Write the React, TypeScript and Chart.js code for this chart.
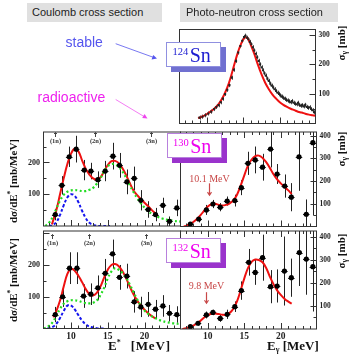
import React, { useEffect, useRef } from "react";
import { Chart, registerables } from "chart.js";

Chart.register(...registerables);

// ---------------- shared axis data ----------------
const E_MIN = 6.25;
const E_MAX = 24.9;
const X_TICK_LABELS = [10, 15, 20];
const THRESHOLD_LABELS = ["(1n)", "(2n)", "(3n)"];

// ---------------- 124Sn photo-neutron (top right) ----------------
const sn124E = [9.0, 9.4, 9.8, 10.2, 10.6, 11.0, 11.3, 11.6, 11.9, 12.2, 12.5, 12.8, 13.1, 13.4, 13.7, 14.0, 14.3, 14.6, 14.85, 15.1, 15.3, 15.5, 15.7, 15.9, 16.1, 16.3, 16.5, 16.7, 16.9, 17.1, 17.3, 17.5, 17.7, 17.9, 18.1, 18.3, 18.5, 18.7, 18.9, 19.1, 19.3, 19.5, 19.7, 19.9, 20.1, 20.3, 20.5, 20.7, 20.9, 21.1, 21.3, 21.5, 21.7, 21.9, 22.1, 22.3, 22.5, 22.7, 22.9, 23.1, 23.3, 23.5, 23.7, 23.9, 24.1, 24.3, 24.5, 24.7];
const sn124Sigma = [20, 23, 28, 34, 40, 49, 56, 62, 72, 84, 100, 114, 130, 155, 182, 212, 240, 262, 280, 292, 297, 290, 285, 276, 268, 258, 247, 236, 224, 212, 200, 190, 180, 170, 162, 152, 144, 135, 128, 122, 116, 110, 104, 100, 95, 91, 87, 84, 80, 78, 75, 72, 76, 70, 67, 65, 70, 63, 60, 62, 58, 63, 56, 53, 55, 49, 45, 38];
const sn124Err = 7;
const sn124FitE = [8.8, 9.5, 10, 10.5, 11, 11.5, 12, 12.5, 13, 13.5, 14, 14.5, 15, 15.3, 15.6, 16, 16.5, 17, 17.5, 18, 18.5, 19, 19.5, 20, 20.5, 21, 21.5, 22, 22.5, 23, 23.5, 24, 24.5, 24.9];
const sn124Fit = [18, 25, 32, 40, 50, 62, 80, 104, 135, 176, 220, 258, 285, 292, 288, 268, 236, 199, 166, 138, 116, 98, 84, 72, 63, 56, 50, 45, 40, 37, 33, 30, 28, 26];
const sn124YLabels = [100, 200, 300];

// ---------------- 130Sn Coulomb (middle left) ----------------
const sn130CoulE = [7.85, 8.75, 9.75, 10.7, 11.8, 12.7, 13.65, 14.65, 15.7, 16.6, 17.6, 18.6, 19.5, 20.5, 21.5, 22.5, 23.4, 24.4];
const sn130Coul = [36, 128, 218, 242, 176, 173, 146, 173, 220, 191, 139, 150, 81, 52, 36, 65, 15, 57];
const sn130CoulErr = [18, 29, 32, 42, 32, 26, 26, 32, 42, 39, 39, 37, 32, 26, 21, 24, 15, 26];
const sn130TotE = [7.4, 8, 8.5, 9, 9.5, 10, 10.5, 11, 11.5, 12, 12.5, 13, 13.5, 14, 14.5, 15, 15.5, 16, 16.5, 17, 17.5, 18, 18.5, 19, 19.5, 20, 20.5, 21, 21.5];
const sn130Tot = [5, 50, 100, 150, 195, 228, 243, 235, 207, 180, 162, 150, 146, 153, 172, 192, 204, 205, 198, 182, 160, 135, 112, 97, 85, 73, 62, 50, 39];
const sn130PdrE = [7, 7.5, 8, 8.5, 9, 9.5, 10, 10.5, 11, 11.5, 12, 12.5, 13, 13.5, 14, 15.3];
const sn130Pdr = [0, 3, 12, 35, 65, 90, 100, 95, 75, 48, 25, 10, 4, 1, 0, 0];
const sn130GdrE = [6.5, 7, 7.5, 8, 8.5, 9, 9.5, 10, 10.5, 11, 11.5, 12, 12.5, 13, 13.5, 14, 14.5, 15, 15.5, 16, 16.5, 17, 17.5, 18, 18.5, 19, 19.5, 20, 20.5, 21, 21.5, 22, 22.5, 23, 23.5, 24, 24.9];
const sn130Gdr = [0, 10, 28, 55, 80, 98, 108, 112, 113, 112, 110, 110, 114, 120, 133, 150, 172, 188, 195, 194, 186, 172, 152, 128, 107, 88, 72, 58, 47, 38, 32, 27, 23, 20, 18, 16, 14];
const sn130Thresholds = [7.75, 13.2, 20.9];
const coulYLabels = [100, 200];

// ---------------- 130Sn photo-neutron (middle right) ----------------
const sn130PhotE = [7.6, 8.75, 9.8, 10.7, 11.7, 12.65, 13.7, 14.6, 15.5, 16.5, 17.5, 18.6, 19.5, 20.55, 21.45, 22.5, 23.5, 24.4];
const sn130Phot = [11, 33, 73, 99, 85, 112, 114, 171, 278, 293, 261, 341, 231, 178, 129, 307, 54, 369];
const sn130PhotErr = [5, 15, 22, 18, 18, 20, 26, 33, 51, 59, 59, 81, 44, 51, 62, 150, 65, 320];
const sn130PhotFitE = [6.7, 7, 7.5, 8, 8.5, 9, 9.5, 10, 10.5, 11, 11.5, 12, 12.5, 13, 13.5, 14, 14.5, 15, 15.5, 16, 16.5, 17, 17.5, 18, 18.5, 19, 19.5, 20, 20.5, 21, 21.5];
const sn130PhotFit = [0, 3, 10, 20, 33, 50, 70, 88, 98, 100, 95, 92, 95, 102, 115, 140, 180, 225, 268, 295, 310, 312, 302, 283, 258, 230, 207, 190, 175, 160, 143];
const photYLabels = [100, 200, 300, 400];

// ---------------- 132Sn Coulomb (bottom left) ----------------
const sn132CoulE = [7.85, 8.85, 9.8, 10.8, 11.7, 12.7, 13.65, 14.65, 15.65, 16.6, 17.6, 18.6, 19.5, 20.5, 21.5, 22.5, 23.4, 24.4];
const sn132Coul = [44, 100, 190, 190, 102, 108, 128, 174, 235, 161, 165, 84, 68, 76, 61, 71, 48, 44];
const sn132CoulErr = [24, 32, 50, 50, 37, 34, 39, 45, 45, 39, 39, 34, 32, 39, 29, 34, 26, 26];
const sn132TotE = [7.6, 8, 8.5, 9, 9.5, 10, 10.5, 11, 11.5, 12, 12.5, 13, 13.5, 14, 14.5, 15, 15.5, 16, 16.5, 17, 17.5, 18, 18.5, 19, 19.5, 20, 20.5, 21, 21.5];
const sn132Tot = [35, 55, 88, 132, 172, 188, 182, 166, 146, 124, 108, 104, 112, 132, 160, 185, 200, 203, 196, 180, 158, 132, 108, 88, 72, 59, 48, 39, 32];
const sn132PdrE = [6.8, 7.5, 8, 8.5, 9, 9.5, 10, 10.5, 11, 11.5, 12, 12.5, 13, 13.5, 14, 14.7];
const sn132Pdr = [0, 5, 15, 33, 55, 72, 72, 60, 42, 25, 13, 6, 3, 1, 0, 0];
const sn132GdrE = [6.3, 7, 7.5, 8, 8.5, 9, 9.5, 10, 10.5, 11, 11.5, 12, 12.5, 13, 13.5, 14, 14.5, 15, 15.5, 16, 16.5, 17, 17.5, 18, 18.5, 19, 19.5, 20, 20.5, 21, 21.5, 22, 22.5, 23, 23.5, 24, 24.9];
const sn132Gdr = [0, 8, 20, 40, 62, 78, 86, 89, 89, 87, 83, 80, 79, 81, 88, 105, 128, 158, 180, 190, 185, 175, 160, 138, 115, 92, 72, 57, 46, 38, 32, 27, 23, 20, 18, 16, 14];
const sn132Thresholds = [7.44, 12.5, 20.2];

// ---------------- 132Sn photo-neutron (bottom right) ----------------
const sn132PhotE = [7.6, 8.65, 9.8, 10.7, 11.7, 12.65, 13.7, 14.6, 15.6, 16.5, 17.5, 18.6, 19.5, 20.5, 21.45, 22.55, 23.5, 24.4];
const sn132Phot = [10, 25, 61, 72, 46, 64, 97, 167, 290, 246, 310, 184, 187, 252, 223, 332, 304, 271];
const sn132PhotErr = [5, 10, 15, 12, 15, 20, 23, 40, 58, 54, 100, 72, 72, 150, 83, 145, 155, 195];
const sn132PhotFitE = [6.5, 7, 7.5, 8, 8.5, 9, 9.5, 10, 10.5, 11, 11.5, 12, 12.5, 13, 13.5, 14, 14.5, 15, 15.5, 16, 16.5, 17, 17.5, 18, 18.5, 19, 19.5, 20, 20.5, 21, 21.5];
const sn132PhotFit = [0, 3, 8, 15, 24, 36, 50, 60, 66, 67, 65, 62, 62, 70, 88, 120, 168, 220, 265, 292, 302, 300, 290, 265, 228, 195, 168, 148, 132, 120, 110];

// ---------------- styles ----------------
const SERIF = "'Liberation Serif', 'Times New Roman', serif";
const SANS = "'Liberation Sans', Arial, sans-serif";
const RED = "#ee1111";
const BLUE = "#1515ee";
const GREEN = "#22dd22";

type Curve = { e: number[]; v: number[]; color: string; dash: number[]; width: number };
type Panel = {
  id: string;
  rect: [number, number, number, number];
  yMax: number;
  ySide: "left" | "right";
  yMajor: number;
  yMinor: number;
  yLabels: number[];
  yFont: string;
  xLabels: boolean;
  topTicks: boolean;
  e: number[];
  v: number[];
  err: number[] | number;
  xErr: number;
  pointStyle: string;
  pointRadius: number;
  pointColor: string;
  errColor: string;
  curves: Curve[];
  thresholds?: number[];
  thrOffset?: number;
  note?: { e: number; text: string; textV: number; fromV: number; toV: number };
};

const PANELS: Panel[] = [
  {
    id: "sn124",
    rect: [179.5, 29.5, 315.5, 123.5],
    yMax: 318,
    ySide: "right",
    yMajor: 100,
    yMinor: 50,
    yLabels: sn124YLabels,
    yFont: `bold 7.5px ${SERIF}`,
    xLabels: false,
    topTicks: false,
    e: sn124E,
    v: sn124Sigma,
    err: sn124Err,
    xErr: 0,
    pointStyle: "rect",
    pointRadius: 1.5,
    pointColor: "#222",
    errColor: "#555",
    curves: [{ e: sn124FitE, v: sn124Fit, color: RED, dash: [], width: 2 }],
  },
  {
    id: "sn130c",
    rect: [43.5, 132, 180.5, 226],
    yMax: 296,
    ySide: "left",
    yMajor: 100,
    yMinor: 50,
    yLabels: coulYLabels,
    yFont: `bold 8px ${SERIF}`,
    xLabels: false,
    topTicks: false,
    e: sn130CoulE,
    v: sn130Coul,
    err: sn130CoulErr,
    xErr: 0.45,
    pointStyle: "circle",
    pointRadius: 2.6,
    pointColor: "#000",
    errColor: "#222",
    curves: [
      { e: sn130GdrE, v: sn130Gdr, color: GREEN, dash: [2, 2.5], width: 2.2 },
      { e: sn130PdrE, v: sn130Pdr, color: BLUE, dash: [3, 2], width: 2 },
      { e: sn130TotE, v: sn130Tot, color: RED, dash: [], width: 2 },
    ],
    thresholds: sn130Thresholds,
    thrOffset: 0,
  },
  {
    id: "sn130p",
    rect: [180.5, 132, 316.5, 226.5],
    yMax: 416,
    ySide: "right",
    yMajor: 100,
    yMinor: 50,
    yLabels: photYLabels,
    yFont: `bold 7.5px ${SERIF}`,
    xLabels: false,
    topTicks: true,
    e: sn130PhotE,
    v: sn130Phot,
    err: sn130PhotErr,
    xErr: 0.45,
    pointStyle: "circle",
    pointRadius: 2.6,
    pointColor: "#000",
    errColor: "#222",
    curves: [{ e: sn130PhotFitE, v: sn130PhotFit, color: RED, dash: [], width: 2 }],
    note: { e: 10.1, text: "10.1 MeV", textV: 206, fromV: 190, toV: 138 },
  },
  {
    id: "sn132c",
    rect: [43.5, 231, 180.5, 328.5],
    yMax: 307,
    ySide: "left",
    yMajor: 100,
    yMinor: 50,
    yLabels: coulYLabels,
    yFont: `bold 8px ${SERIF}`,
    xLabels: true,
    topTicks: false,
    e: sn132CoulE,
    v: sn132Coul,
    err: sn132CoulErr,
    xErr: 0.45,
    pointStyle: "circle",
    pointRadius: 2.6,
    pointColor: "#000",
    errColor: "#222",
    curves: [
      { e: sn132GdrE, v: sn132Gdr, color: GREEN, dash: [2, 2.5], width: 2.2 },
      { e: sn132PdrE, v: sn132Pdr, color: BLUE, dash: [3, 2], width: 2 },
      { e: sn132TotE, v: sn132Tot, color: RED, dash: [], width: 2 },
    ],
    thresholds: sn132Thresholds,
    thrOffset: 3,
  },
  {
    id: "sn132p",
    rect: [180.5, 231, 316.5, 329],
    yMax: 426,
    ySide: "right",
    yMajor: 100,
    yMinor: 50,
    yLabels: photYLabels,
    yFont: `bold 7.5px ${SERIF}`,
    xLabels: true,
    topTicks: true,
    e: sn132PhotE,
    v: sn132Phot,
    err: sn132PhotErr,
    xErr: 0.45,
    pointStyle: "circle",
    pointRadius: 2.6,
    pointColor: "#000",
    errColor: "#222",
    curves: [{ e: sn132PhotFitE, v: sn132PhotFit, color: RED, dash: [], width: 2 }],
    note: { e: 9.8, text: "9.8 MeV", textV: 184, fromV: 160, toV: 112 },
  },
];

function makePlugin(p: Panel) {
  return {
    id: "frame-" + p.id,
    beforeDatasetsDraw(chart: any) {
      const { ctx, chartArea: a } = chart;
      const xs = chart.scales.x;
      const ys = chart.scales.y;
      ctx.save();
      ctx.beginPath();
      ctx.rect(a.left, a.top, a.right - a.left, a.bottom - a.top);
      ctx.clip();
      ctx.strokeStyle = p.errColor;
      ctx.lineWidth = 1;
      p.e.forEach((e, i) => {
        const v = p.v[i];
        const err = Array.isArray(p.err) ? p.err[i] : p.err;
        const px = Math.round(xs.getPixelForValue(e)) + 0.5;
        const py = Math.round(ys.getPixelForValue(v)) + 0.5;
        ctx.beginPath();
        ctx.moveTo(px, ys.getPixelForValue(v - err));
        ctx.lineTo(px, ys.getPixelForValue(v + err));
        if (p.xErr > 0) {
          ctx.moveTo(xs.getPixelForValue(e - p.xErr), py);
          ctx.lineTo(xs.getPixelForValue(e + p.xErr), py);
        }
        ctx.stroke();
      });
      ctx.restore();
    },
    afterDraw(chart: any) {
      const { ctx, chartArea: a } = chart;
      const xs = chart.scales.x;
      const ys = chart.scales.y;
      ctx.save();
      ctx.strokeStyle = "#333";
      ctx.lineWidth = 1;
      ctx.strokeRect(a.left, a.top, a.right - a.left, a.bottom - a.top);
      ctx.beginPath();
      for (let v = 7; v <= 24; v++) {
        const px = Math.round(xs.getPixelForValue(v)) + 0.5;
        const len = v % 5 === 0 ? 6 : 3;
        ctx.moveTo(px, a.bottom);
        ctx.lineTo(px, a.bottom - len);
        if (p.topTicks) {
          ctx.moveTo(px, a.top);
          ctx.lineTo(px, a.top + len);
        }
      }
      for (let v = p.yMinor; v < p.yMax; v += p.yMinor) {
        const py = Math.round(ys.getPixelForValue(v)) + 0.5;
        const len = v % p.yMajor === 0 ? 6 : 3;
        if (p.ySide === "left") {
          ctx.moveTo(a.left, py);
          ctx.lineTo(a.left + len, py);
        } else {
          ctx.moveTo(a.right, py);
          ctx.lineTo(a.right - len, py);
        }
      }
      ctx.stroke();

      ctx.fillStyle = "#222";
      ctx.font = p.yFont;
      ctx.textBaseline = "middle";
      p.yLabels.forEach((v) => {
        const py = ys.getPixelForValue(v);
        if (p.ySide === "left") {
          ctx.textAlign = "right";
          ctx.fillText(String(v), a.left - 3.5, py);
        } else {
          ctx.textAlign = "left";
          ctx.fillText(String(v), a.right + 3, py);
        }
      });
      if (p.xLabels) {
        ctx.font = `bold 9.5px ${SERIF}`;
        ctx.textAlign = "center";
        X_TICK_LABELS.forEach((v) => {
          ctx.fillText(String(v), xs.getPixelForValue(v), a.bottom + 8);
        });
      }
      if (p.thresholds) {
        const off = p.thrOffset || 0;
        ctx.font = `bold 6.5px ${SERIF}`;
        ctx.textAlign = "center";
        ctx.strokeStyle = "#444";
        ctx.fillStyle = "#333";
        p.thresholds.forEach((e, i) => {
          const px = Math.round(xs.getPixelForValue(e)) + 0.5;
          const y0 = a.top + off + 0.5;
          ctx.beginPath();
          ctx.moveTo(px, y0);
          ctx.lineTo(px, y0 + 4.5);
          ctx.moveTo(px - 1.5, y0 + 1.5);
          ctx.lineTo(px, y0);
          ctx.lineTo(px + 1.5, y0 + 1.5);
          ctx.stroke();
          ctx.fillText(THRESHOLD_LABELS[i], px, y0 + 8.5);
        });
      }
      if (p.note) {
        const n = p.note;
        const px = Math.round(xs.getPixelForValue(n.e)) + 0.5;
        ctx.fillStyle = "#c84848";
        ctx.strokeStyle = "#c84848";
        ctx.font = `10px ${SERIF}`;
        ctx.textAlign = "center";
        ctx.fillText(n.text, px, ys.getPixelForValue(n.textV));
        const y1 = ys.getPixelForValue(n.fromV);
        const y2 = ys.getPixelForValue(n.toV);
        ctx.lineWidth = 1.2;
        ctx.beginPath();
        ctx.moveTo(px, y1);
        ctx.lineTo(px, y2);
        ctx.stroke();
        ctx.beginPath();
        ctx.moveTo(px - 2, y2 - 3);
        ctx.lineTo(px, y2);
        ctx.lineTo(px + 2, y2 - 3);
        ctx.stroke();
      }
      ctx.restore();
    },
  };
}

function buildConfig(p: Panel): any {
  const [l, t, r, b] = p.rect;
  const datasets: any[] = [
    {
      data: p.e.map((e, i) => ({ x: e, y: p.v[i] })),
      showLine: false,
      pointStyle: p.pointStyle,
      pointRadius: p.pointRadius,
      backgroundColor: p.pointColor,
      borderColor: p.pointColor,
      borderWidth: 0,
    },
  ];
  p.curves.forEach((c) => {
    datasets.push({
      data: c.e.map((e, i) => ({ x: e, y: c.v[i] })),
      showLine: true,
      borderColor: c.color,
      borderWidth: c.width,
      borderDash: c.dash,
      pointRadius: 0,
      tension: 0.4,
      fill: false,
    });
  });
  return {
    type: "scatter",
    data: { datasets },
    options: {
      animation: false,
      responsive: false,
      maintainAspectRatio: false,
      devicePixelRatio: 1,
      events: [],
      layout: { padding: { left: l, top: t, right: 351 - r, bottom: 356 - b } },
      plugins: { legend: { display: false }, tooltip: { enabled: false } },
      scales: {
        x: { type: "linear", min: E_MIN, max: E_MAX, display: false },
        y: { type: "linear", min: 0, max: p.yMax, display: false },
      },
    },
    plugins: [makePlugin(p)],
  };
}

function IsoBox(props: { left: number; top: number; mass: string; color: string; border: string; shadow: string }) {
  const { left, top, mass, color, border, shadow } = props;
  return (
    <>
      <div style={{ position: "absolute", left: left + 5, top: top + 5, width: 55, height: 25, background: shadow }} />
      <div
        style={{
          position: "absolute",
          left,
          top,
          width: 55,
          height: 25,
          boxSizing: "border-box",
          border: `1px solid ${border}`,
          background: "#fff",
        }}
      />
      <div
        style={{
          position: "absolute",
          left: left + 6.5,
          top: top + 3,
          font: `20px ${SERIF}`,
          lineHeight: "1",
          color,
          whiteSpace: "nowrap",
        }}
      >
        <span style={{ fontSize: "10.5px", verticalAlign: "7px", marginRight: "1.5px" }}>{mass}</span>Sn
      </div>
    </>
  );
}

function RotLabel(props: { cx: number; cy: number; size: number; children: any }) {
  return (
    <div
      style={{
        position: "absolute",
        left: props.cx,
        top: props.cy,
        transform: "translate(-50%, -50%) rotate(-90deg)",
        font: `bold ${props.size}px ${SERIF}`,
        lineHeight: "1",
        whiteSpace: "nowrap",
        color: "#111",
      }}
    >
      {props.children}
    </div>
  );
}

const sigmaTitle = (
  <>
    σ<sub style={{ fontSize: "7.5px", verticalAlign: "-2px" }}>γ</sub> [mb]
  </>
);
const dsdeTitle = (
  <>
    dσ/dE<sup style={{ fontSize: "7.5px", verticalAlign: "4px" }}>*</sup> [mb/MeV]
  </>
);

export default function App() {
  const refs = useRef<(HTMLCanvasElement | null)[]>([]);
  useEffect(() => {
    const charts = PANELS.map((p, i) => new Chart(refs.current[i] as HTMLCanvasElement, buildConfig(p)));
    return () => charts.forEach((c) => c.destroy());
  }, []);

  return (
    <div style={{ position: "absolute", left: 0, top: 0, width: 351, height: 356, background: "#fff", overflow: "hidden" }}>
      {PANELS.map((p, i) => (
        <canvas
          key={p.id}
          ref={(el) => {
            refs.current[i] = el;
          }}
          width={351}
          height={356}
          style={{ position: "absolute", left: 0, top: 0, width: 351, height: 356 }}
        />
      ))}

      {/* headers */}
      <div
        style={{
          position: "absolute",
          left: 27,
          top: 3,
          width: 135,
          height: 19,
          background: "#e0e0e0",
          font: `11px ${SANS}`,
          color: "#222",
          lineHeight: "19px",
          paddingLeft: 5,
          boxSizing: "border-box",
          whiteSpace: "nowrap",
        }}
      >
        Coulomb cross section
      </div>
      <div
        style={{
          position: "absolute",
          left: 180,
          top: 3,
          width: 158,
          height: 19,
          background: "#e0e0e0",
          font: `11px ${SANS}`,
          color: "#222",
          lineHeight: "19px",
          paddingLeft: 6,
          boxSizing: "border-box",
          whiteSpace: "nowrap",
        }}
      >
        Photo-neutron cross section
      </div>

      <div style={{ position: "absolute", left: 65.5, top: 35, font: `14px ${SANS}`, lineHeight: "1", color: "#5555ee" }}>stable</div>
      <div style={{ position: "absolute", left: 37.5, top: 90, font: `14px ${SANS}`, lineHeight: "1", color: "#ee22ee" }}>radioactive</div>

      <svg width={351} height={356} style={{ position: "absolute", left: 0, top: 0 }}>
        <line x1={115.7} y1={43.7} x2={153} y2={57.2} stroke="#5555ee" strokeWidth={0.8} />
        <path d="M157,58.6 L151.6,59.4 L153.2,54.9 Z" fill="#5555ee" />
        <line x1={115.7} y1={99.5} x2={144} y2={116.5} stroke="#ee44ee" strokeWidth={0.7} />
        <path d="M147.5,118.6 L142.2,117.9 L144.6,113.9 Z" fill="#ee44ee" />
      </svg>

      <IsoBox left={166} top={42} mass="124" color="#1c1cd0" border="#9090e0" shadow="#7070d0" />
      <IsoBox left={166.5} top={133} mass="130" color="#ee00ee" border="#b880dd" shadow="#9a33cc" />
      <IsoBox left={166} top={238} mass="132" color="#ee00ee" border="#b880dd" shadow="#9a33cc" />

      <RotLabel cx={341.5} cy={43} size={11}>{sigmaTitle}</RotLabel>
      <RotLabel cx={341.5} cy={149} size={11}>{sigmaTitle}</RotLabel>
      <RotLabel cx={341.5} cy={251} size={11}>{sigmaTitle}</RotLabel>
      <RotLabel cx={13} cy={181} size={11}>{dsdeTitle}</RotLabel>
      <RotLabel cx={13} cy={280} size={11}>{dsdeTitle}</RotLabel>

      <div style={{ position: "absolute", left: 108, top: 339, font: `bold 13px ${SERIF}`, lineHeight: "1", color: "#111", whiteSpace: "nowrap" }}>
        E<sup style={{ fontSize: "8px", verticalAlign: "5px" }}>*</sup>
        <span style={{ marginLeft: 10, letterSpacing: "0.8px" }}>[MeV]</span>
      </div>
      <div style={{ position: "absolute", left: 267, top: 339, font: `bold 13px ${SERIF}`, lineHeight: "1", color: "#111", whiteSpace: "nowrap" }}>
        E<sub style={{ fontSize: "8px", verticalAlign: "-2px" }}>γ</sub> [MeV]
      </div>
    </div>
  );
}
